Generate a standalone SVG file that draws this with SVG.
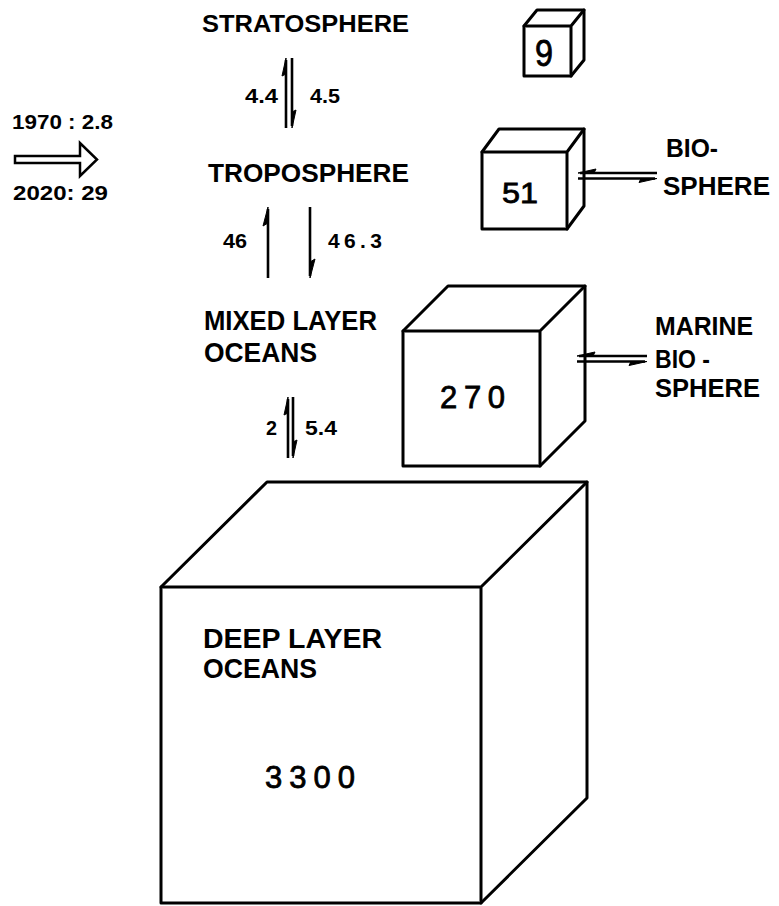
<svg xmlns="http://www.w3.org/2000/svg" width="779" height="906" viewBox="0 0 779 906">
<defs>
<style>
.cube{fill:#fff;stroke:#000;stroke-width:3;stroke-linejoin:round;stroke-linecap:round}
.lbl{font-family:"Liberation Sans","DejaVu Sans",sans-serif;font-weight:bold;fill:#000}
.num{font-family:"Liberation Sans","DejaVu Sans",sans-serif;font-weight:normal;fill:#000;stroke:#000;stroke-width:0.8}
.ln{fill:none;stroke:#000;stroke-width:2.6;stroke-linecap:butt}
.hd{fill:#000;stroke:#000;stroke-width:1;stroke-linejoin:round}
</style>
</defs>
<rect width="779" height="906" fill="#fff"/>

<g id="emission">
<polygon points="15,156 80,156 80,143 97,159.5 80,176 80,163 15,163" fill="#fff" stroke="#000" stroke-width="2.5" stroke-linejoin="miter"/>
<text class="lbl" x="12" y="129" font-size="21" textLength="101" lengthAdjust="spacingAndGlyphs">1970 : 2.8</text>
<text class="lbl" x="13" y="200" font-size="21" textLength="95" lengthAdjust="spacingAndGlyphs">2020: 29</text>
</g>

<g id="stratosphere">
<text class="lbl" x="202" y="32" font-size="24" textLength="207" lengthAdjust="spacingAndGlyphs">STRATOSPHERE</text>
</g>
<g id="troposphere">
<text class="lbl" x="208" y="182" font-size="25" textLength="201" lengthAdjust="spacingAndGlyphs">TROPOSPHERE</text>
</g>
<g id="mixed-layer">
<text class="lbl" x="204" y="330" font-size="27" textLength="173" lengthAdjust="spacingAndGlyphs">MIXED LAYER</text>
<text class="lbl" x="204" y="362" font-size="27" textLength="113" lengthAdjust="spacingAndGlyphs">OCEANS</text>
</g>

<g id="cube-9">
<path class="cube" d="M524,26 L537,10 L584,10 L584,60 L571,76 L524,76 Z"/>
<path class="cube" fill="none" d="M524,26 L571,26 L571,76 M571,26 L584,10"/>
<text class="num" x="535" y="66" font-size="36" textLength="18" lengthAdjust="spacingAndGlyphs">9</text>
</g>

<g id="cube-51">
<path class="cube" d="M482,152 L499,129 L584,129 L584,206 L567,229 L482,229 Z"/>
<path class="cube" fill="none" d="M482,152 L567,152 L567,229 M567,152 L584,129"/>
<text class="num" x="502" y="203" font-size="30" textLength="36" lengthAdjust="spacingAndGlyphs">51</text>
</g>

<g id="biosphere">
<text class="lbl" x="666" y="157" font-size="25" textLength="52" lengthAdjust="spacingAndGlyphs">BIO-</text>
<text class="lbl" x="663" y="195" font-size="25" textLength="107" lengthAdjust="spacingAndGlyphs">SPHERE</text>
</g>

<g id="cube-270">
<path class="cube" d="M403,331 L448,286 L585,286 L585,421 L540,466 L403,466 Z"/>
<path class="cube" fill="none" d="M403,331 L540,331 L540,466 M540,331 L585,286"/>
<text class="num" x="440" y="408" font-size="31" textLength="65" lengthAdjust="spacing">270</text>
</g>

<g id="marine-biosphere">
<text class="lbl" x="655" y="335" font-size="25" textLength="98" lengthAdjust="spacingAndGlyphs">MARINE</text>
<text class="lbl" x="655" y="368" font-size="25" textLength="55" lengthAdjust="spacingAndGlyphs">BIO -</text>
<text class="lbl" x="655" y="397" font-size="25" textLength="105" lengthAdjust="spacingAndGlyphs">SPHERE</text>
</g>

<g id="cube-3300">
<path class="cube" d="M161,587 L267,482 L587,482 L587,798 L481,903 L161,903 Z"/>
<path class="cube" fill="none" d="M161,587 L481,587 L481,903 M481,587 L587,482"/>
<text class="lbl" x="203" y="648" font-size="27" textLength="179" lengthAdjust="spacingAndGlyphs">DEEP LAYER</text>
<text class="lbl" x="203" y="678" font-size="27" textLength="114" lengthAdjust="spacingAndGlyphs">OCEANS</text>
<text class="num" x="265" y="788" font-size="31" textLength="90" lengthAdjust="spacing">3300</text>
</g>

<g id="connectors">
<line class="ln" x1="286" y1="128" x2="286" y2="60"/>
<polygon class="hd" points="286,58 286,74 282,76"/>
<line class="ln" x1="292" y1="58" x2="292" y2="126"/>
<polygon class="hd" points="292,128 292,112 296,110"/>
<text class="lbl" x="245" y="103" font-size="20" textLength="33" lengthAdjust="spacingAndGlyphs">4.4</text>
<text class="lbl" x="310" y="103" font-size="20" textLength="30" lengthAdjust="spacingAndGlyphs">4.5</text>
<line class="ln" x1="268" y1="278" x2="268" y2="209"/>
<polygon class="hd" points="268,207 268,223 263,226"/>
<line class="ln" x1="310" y1="207" x2="310" y2="276"/>
<polygon class="hd" points="310,278 310,262 315,259"/>
<text class="lbl" x="223" y="248" font-size="21" textLength="24" lengthAdjust="spacingAndGlyphs">46</text>
<text class="lbl" x="328" y="248" font-size="21" textLength="54" lengthAdjust="spacing">46.3</text>
<line class="ln" x1="288" y1="458" x2="288" y2="399" stroke-width="3.2"/>
<polygon class="hd" points="288,397 288,413 284,415"/>
<line class="ln" x1="293" y1="397" x2="293" y2="456" stroke-width="3.2"/>
<polygon class="hd" points="293,458 293,442 297,440"/>
<text class="lbl" x="266" y="435" font-size="20" textLength="11" lengthAdjust="spacingAndGlyphs">2</text>
<text class="lbl" x="305" y="435" font-size="20" textLength="32" lengthAdjust="spacingAndGlyphs">5.4</text>
<line class="ln" x1="580" y1="173" x2="657" y2="173"/>
<polygon class="hd" points="578,173 594,173 596,169"/>
<line class="ln" x1="578" y1="178.5" x2="655" y2="178.5"/>
<polygon class="hd" points="657,178.5 641,178.5 639,182.5"/>
<line class="ln" x1="579" y1="356" x2="647" y2="356"/>
<polygon class="hd" points="577,356 593,356 595,352"/>
<line class="ln" x1="577" y1="361.5" x2="645" y2="361.5"/>
<polygon class="hd" points="647,361.5 631,361.5 629,365.5"/>
</g>
</svg>
